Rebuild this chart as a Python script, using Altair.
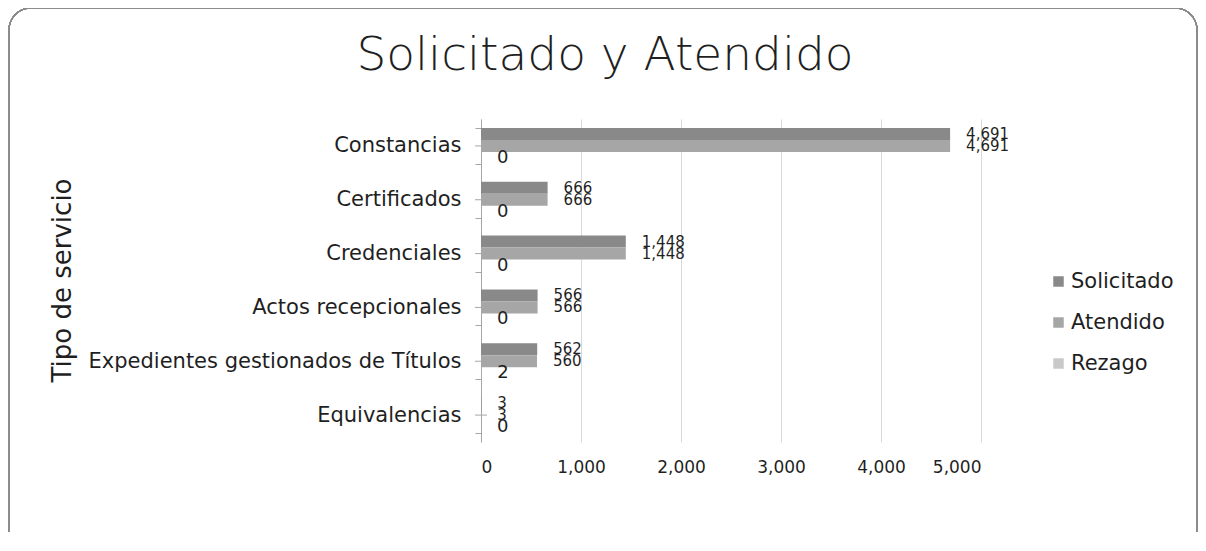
import altair as alt
import pandas as pd

categories = ["Constancias", "Certificados", "Credenciales", "Actos recepcionales",
              "Expedientes gestionados de Títulos", "Equivalencias"]
series = ["Solicitado", "Atendido", "Rezago"]
solicitado = [4691, 666, 1448, 566, 562, 3]
atendido = [4691, 666, 1448, 566, 560, 3]
rezago = [0, 0, 0, 0, 2, 0]
colors = ["#898989", "#a6a6a6", "#c9c9c9"]
x_ticks = [0, 1000, 2000, 3000, 4000, 5000]

rows = []
for i, c in enumerate(categories):
    for s, vals in zip(series, [solicitado, atendido, rezago]):
        rows.append({"cat": c, "serie": s, "valor": vals[i]})
df = pd.DataFrame(rows)
cats_df = pd.DataFrame({"cat": categories})

FONT = "DejaVu Sans"
TXT = "#1f1f1f"
AXC = "#a6a6a6"

y_enc = alt.Y("cat:N", sort=categories,
              scale=alt.Scale(paddingInner=0.33, paddingOuter=0.165),
              axis=alt.Axis(title="Tipo de servicio", titleFont=FONT, titleFontSize=26,
                            titleFontWeight="normal", titleColor=TXT,
                            titleAngle=-90, titleAlign="center", titleBaseline="middle",
                            titleX=-419, titleY=161,
                            labelFont=FONT, labelFontSize=21, labelColor=TXT, labelLimit=0,
                            labelPadding=14, domainColor=AXC, tickColor=AXC,
                            tickSize=6, tickBand="extent"))
yoff = alt.YOffset("serie:N", sort=series)
x_enc = alt.X("valor:Q", scale=alt.Scale(domain=[0, 5000], nice=False),
              axis=alt.Axis(title=None, values=x_ticks, format=",.0f", domain=False, ticks=False,
                            gridColor="#d9d9d9", labelFont=FONT, labelFontSize=17,
                            labelColor=TXT, labelPadding=17))

card = alt.Chart(df).mark_rect(cornerRadius=22, fill=None, fillOpacity=0,
                               stroke="#8c8c8c", strokeWidth=1.2).encode(
    x=alt.value(-472), x2=alt.value(716), y=alt.value(-111), y2=alt.value(431))

bars = alt.Chart(df).mark_bar().encode(
    y=y_enc, yOffset=yoff, x=x_enc,
    color=alt.Color("serie:N", sort=series,
                    scale=alt.Scale(domain=series, range=colors),
                    legend=alt.Legend(title=None, orient="none", legendX=567, legendY=152,
                                      symbolType="square", symbolSize=110, symbolStrokeWidth=0,
                                      labelFont=FONT, labelFontSize=21, labelColor=TXT,
                                      rowPadding=19, labelOffset=2)))

center_ticks = alt.Chart(cats_df).mark_rule(color=AXC, strokeWidth=1).encode(
    y=alt.Y("cat:N", sort=categories), x=alt.value(-6), x2=alt.value(6))

labels_small = alt.Chart(df).transform_filter(alt.datum.serie != "Rezago").mark_text(
    align="left", baseline="middle", dx=16, font=FONT, fontSize=15, color=TXT).encode(
    y=alt.Y("cat:N", sort=categories), yOffset=yoff, x="valor:Q",
    text=alt.Text("valor:Q", format=",.0f"))

labels_big = alt.Chart(df).transform_filter(alt.datum.serie == "Rezago").mark_text(
    align="left", baseline="middle", dx=16, font=FONT, fontSize=18, color=TXT).encode(
    y=alt.Y("cat:N", sort=categories), yOffset=yoff, x="valor:Q",
    text=alt.Text("valor:Q", format=",.0f"))

chart = alt.layer(card, bars, center_ticks, labels_small, labels_big).properties(
    width=500, height=323,
    title=alt.TitleParams("Solicitado y Atendido", font=FONT, fontSize=47, fontWeight=300,
                          color=TXT, anchor="middle", frame="group", dx=-126,
                          baseline="alphabetic", offset=-110),
    autosize=alt.AutoSizeParams(type="none"),
    padding={"left": 473, "top": 111, "right": 217, "bottom": 90},
    background="white",
).configure_view(stroke=None)

chart.save("out.html", embed_options={"renderer": "svg", "actions": False})
